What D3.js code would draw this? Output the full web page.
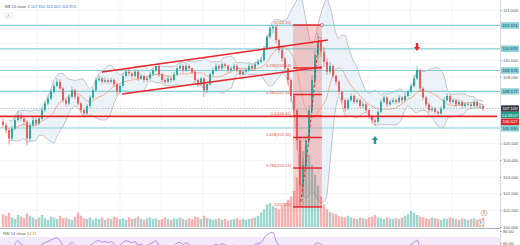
<!DOCTYPE html>
<html><head><meta charset="utf-8">
<script src="https://cdn.jsdelivr.net/npm/d3@7"></script>
<style>html,body{margin:0;padding:0;background:#fff;overflow:hidden}svg{display:block;font-family:"Liberation Sans",Roboto,sans-serif}</style>
</head><body><svg id="c" width="520" height="245"></svg>
<script>
const firstOpen = 106.30;
const closes = [106.10,105.80,105.30,105.90,106.40,106.70,106.50,106.30,105.30,106.10,
106.40,106.20,106.50,107.00,107.40,107.70,108.10,108.45,108.70,108.30,
107.60,107.40,107.80,108.20,107.80,107.40,107.00,106.80,107.25,107.75,
108.20,108.80,108.90,108.70,108.80,108.70,108.80,108.55,108.10,108.45,
109.05,109.30,109.20,109.05,109.30,108.90,109.05,108.80,108.90,109.15,
109.40,109.65,109.15,108.80,108.70,108.90,108.80,109.15,109.50,109.65,
109.40,109.65,109.50,109.30,108.80,108.55,108.90,108.20,108.55,109.15,
109.40,109.65,109.50,109.75,109.65,109.40,109.50,109.65,109.40,109.15,
109.30,109.40,109.65,109.50,109.75,109.90,110.00,110.70,111.40,111.90,
112.00,111.20,110.60,110.10,109.50,108.80,107.85,107.00,105.20,102.50,
103.70,105.20,107.00,108.80,110.30,111.10,110.50,109.90,109.30,109.65,
109.05,108.70,108.10,107.60,107.10,107.60,107.85,107.50,107.60,107.25,
107.35,107.00,106.65,106.40,106.30,106.90,107.50,107.75,107.35,107.50,
107.60,107.50,107.75,107.60,107.85,108.10,108.45,108.90,109.40,108.30,
107.75,107.35,107.00,107.10,106.90,106.80,107.10,107.60,107.85,107.50,
107.60,107.35,107.50,107.25,107.35,107.35,107.25,107.50,107.25,107.25,107.10];
const highs = [106.50,106.25,105.95,106.05,106.55,106.95,106.85,106.60,106.40,106.25,
106.60,106.55,106.65,107.15,107.55,107.90,108.25,108.60,108.90,108.85,
108.40,107.70,107.95,108.40,108.30,107.90,107.50,107.10,107.35,107.90,
108.35,108.95,109.10,109.00,108.95,108.90,108.95,108.90,108.65,108.55,
109.20,109.45,109.45,109.30,109.45,109.40,109.20,109.15,109.05,109.30,
109.55,109.80,109.75,109.25,108.90,109.05,109.00,109.30,109.65,109.85,
109.75,109.80,109.75,109.60,109.40,108.90,109.00,109.00,108.65,109.25,
109.55,109.80,109.75,109.90,109.85,109.75,109.65,109.80,109.75,109.50,
109.45,109.55,109.80,109.75,109.90,110.05,110.20,110.85,111.55,112.05,
112.10,112.05,111.30,110.75,110.20,109.60,108.95,108.00,107.10,105.40,
104.10,105.50,107.30,109.10,110.60,111.60,111.40,110.80,110.10,109.85,
109.75,109.15,108.80,108.20,107.70,107.75,108.00,107.95,107.75,107.70,
107.50,107.45,107.10,106.75,106.50,107.00,107.65,107.90,107.85,107.65,
107.75,107.70,107.90,107.85,108.00,108.25,108.60,109.10,109.65,109.50,
108.40,107.85,107.45,107.25,107.20,107.00,107.25,107.75,108.00,107.95,
107.75,107.70,107.65,107.60,107.50,107.50,107.45,107.65,107.60,107.40,107.35];
const lows = [105.95,105.60,104.95,105.20,105.80,106.30,106.35,106.10,104.90,105.15,
106.00,106.05,106.10,106.40,106.90,107.30,107.60,108.00,108.35,108.20,
107.45,107.20,107.30,107.70,107.65,107.25,106.85,106.60,106.70,107.15,
107.65,108.10,108.70,108.55,108.60,108.55,108.60,108.40,107.90,108.00,
108.35,108.95,109.05,108.90,108.95,108.75,108.80,108.65,108.70,108.80,
109.05,109.30,109.00,108.65,108.55,108.60,108.65,108.70,109.05,109.40,
109.25,109.30,109.35,109.15,108.65,108.40,108.45,107.80,108.05,108.45,
109.05,109.30,109.35,109.40,109.50,109.25,109.30,109.40,109.25,109.00,
109.05,109.20,109.30,109.35,109.40,109.65,109.80,109.90,110.60,111.30,
111.60,111.00,110.40,109.90,109.30,108.50,107.50,106.60,104.60,101.20,
101.80,103.40,104.90,106.80,108.50,110.00,110.20,109.60,109.10,109.15,
108.90,108.50,107.90,107.40,106.90,107.00,107.50,107.35,107.40,107.10,
107.15,106.85,106.50,106.20,106.05,106.20,106.80,107.40,107.20,107.25,
107.40,107.35,107.40,107.45,107.50,107.75,108.00,108.35,108.80,108.10,
107.60,107.20,106.85,106.90,106.75,106.65,106.70,107.00,107.50,107.35,
107.40,107.20,107.25,107.10,107.15,107.20,107.10,107.15,107.10,107.10,106.95];
const volumes = [16,14,18,12,10,15,13,11,17,14,
12,10,12,15,11,9,13,12,10,14,
11,12,10,9,13,18,14,11,10,12,
9,11,10,12,9,11,10,13,12,10,
11,9,12,10,11,13,10,9,11,12,
10,11,9,10,12,10,9,11,10,12,
10,9,11,10,13,12,10,14,11,10,
9,10,11,9,10,8,9,10,11,9,
10,9,10,11,12,14,18,22,28,30,
26,24,22,26,30,34,38,45,62,82,
95,100,90,78,65,52,38,28,22,19,
17,16,14,13,12,14,12,11,10,12,
11,10,12,13,15,12,11,10,12,11,
10,11,10,12,14,16,20,18,15,13,
12,11,10,12,11,10,9,11,10,12,
11,10,9,11,10,9,10,11,9,10,12];
const priceTicks = [100,101,102,103,104,105,106,107,108,109,110,111,113];
const levelValues = [112.074,110.675,109.376,108.127,105.930];
const supportValue = 106.627;
const fibRatios = [0,0.236,0.382,0.5,0.618,0.786,1];
const fibHigh = 112.10, fibLow = 101.20;
const fibSpan = [96.7,106.3];
const channelUpper = [[33,109.28],[108.3,111.2]];
const channelLower = [[39.7,107.97],[106.3,109.58]];
const recoveryPath = [[99.3,101.5],[101.5,104.6],[103.5,108.0],[105.3,111.4]];
const arrowsDown = [[138,110.55]];
const arrowsUp = [[124,105.45]];
const gridIdx = [11.3,25.2,39,52.8,66.7,80.5,94.3,108.2,122,135.8,149.7];
const legendValues = ["107.810","112.405","103.815"];
const rsiTicks = [80,60];
const countdown = "14:59:07";

const svg = d3.select("#c");
const W = 520, axisX = 500, paneBottom = 227;
const n = closes.length;
const opens = closes.map((c,i)=> i===0 ? firstOpen : closes[i-1]);
const x = d3.scaleLinear().domain([0, n-1]).range([3, 483]);
const y = d3.scaleLinear().domain([100,113]).range([227,10]);
const yv = d3.scaleLinear().domain([0,100]).range([227,147]);
const yr = d3.scaleLinear().domain([80,60]).range([231,243]);

svg.append("rect").attr("width",W).attr("height",245).attr("fill","#fff");
const defs = svg.append("defs");
defs.append("clipPath").attr("id","main").append("rect").attr("x",0).attr("y",0).attr("width",axisX).attr("height",paneBottom);
defs.append("clipPath").attr("id","rsi").append("rect").attr("x",0).attr("y",229).attr("width",axisX).attr("height",16);

// grid
const grid = svg.append("g").attr("clip-path","url(#main)");
grid.selectAll("line.v").data(gridIdx).join("line").attr("x1",d=>x(d)).attr("x2",d=>x(d)).attr("y1",0).attr("y2",245).attr("stroke","#eef0f4").attr("stroke-width",0.7);
grid.selectAll("line.h").data(priceTicks).join("line").attr("x1",0).attr("x2",axisX).attr("y1",d=>y(d)).attr("y2",d=>y(d)).attr("stroke","#eef0f4").attr("stroke-width",0.7);

const main = svg.append("g").attr("clip-path","url(#main)");

// Bollinger bands (period 10 over these compressed candles)
const per = 10;
const bb = closes.map((c,i)=>{
  const w = closes.slice(Math.max(0,i-per+1), i+1);
  const m = d3.mean(w), sd = w.length>1 ? Math.sqrt(d3.mean(w.map(v=>(v-m)*(v-m)))) : 0;
  return {i, m, up: m+2*sd, lo: m-2*sd};
}).filter(d=>d.i>=2);
main.append("path").datum(bb).attr("d", d3.area().x(d=>x(d.i)).y0(d=>y(d.lo)).y1(d=>y(d.up)).curve(d3.curveMonotoneX))
  .attr("fill","#e4eef6").attr("opacity",0.75);
["up","lo"].forEach(k=>{
  main.append("path").datum(bb).attr("d", d3.line().x(d=>x(d.i)).y(d=>y(d[k])).curve(d3.curveMonotoneX))
    .attr("fill","none").attr("stroke","#a9aeb5").attr("stroke-width",0.7);
});

// volume
main.selectAll("rect.vol").data(volumes).join("rect")
  .attr("x",(d,i)=>x(i)-1.2).attr("width",2.4)
  .attr("y",d=>yv(d)).attr("height",d=>yv(0)-yv(d))
  .attr("fill",(d,i)=> closes[i]>=opens[i] ? "rgba(38,166,154,0.45)" : "rgba(239,83,80,0.45)");

// horizontal levels
main.selectAll("line.lvl").data(levelValues).join("line")
  .attr("x1",0).attr("x2",axisX).attr("y1",d=>y(d)).attr("y2",d=>y(d))
  .attr("stroke","#86cfd7").attr("stroke-width",1.2);

// fib region
const fibPrice = r => fibHigh - r*(fibHigh-fibLow);
main.append("rect").attr("x",x(fibSpan[0])).attr("width",x(fibSpan[1])-x(fibSpan[0]))
  .attr("y",y(fibHigh)).attr("height",y(fibLow)-y(fibHigh)).attr("fill","rgba(239,83,80,0.28)");

// moving average basis
main.append("path").datum(bb).attr("d", d3.line().x(d=>x(d.i)).y(d=>y(d.m)).curve(d3.curveMonotoneX))
  .attr("fill","none").attr("stroke","#f0926a").attr("stroke-width",0.7);

// candles
const cg = main.append("g");
closes.forEach((c,i)=>{
  const o = opens[i], up = c>=o, col = up ? "#26a69a" : "#ef5350";
  cg.append("line").attr("x1",x(i)).attr("x2",x(i)).attr("y1",y(highs[i])).attr("y2",y(lows[i])).attr("stroke",col).attr("stroke-width",0.6);
  const top = y(Math.max(o,c)), bot = y(Math.min(o,c));
  cg.append("rect").attr("x",x(i)-0.9).attr("width",1.8).attr("y",top).attr("height",Math.max(0.6,bot-top)).attr("fill",col);
});

// current price dashed line
const last = closes[n-1];
main.append("line").attr("x1",0).attr("x2",axisX).attr("y1",y(last)).attr("y2",y(last))
  .attr("stroke","#9aa0a8").attr("stroke-width",0.6).attr("stroke-dasharray","1.5,1.5");

// support line
main.append("line").attr("x1",0).attr("x2",axisX-3).attr("y1",y(supportValue)).attr("y2",y(supportValue))
  .attr("stroke","#e8262a").attr("stroke-width",1.6);

// channel
[channelUpper, channelLower].forEach(seg=>{
  main.append("line").attr("x1",x(seg[0][0])).attr("y1",y(seg[0][1])).attr("x2",x(seg[1][0])).attr("y2",y(seg[1][1]))
    .attr("stroke","#e8262a").attr("stroke-width",1.5);
});

// fib lines + labels
fibRatios.forEach(r=>{
  const p = fibPrice(r);
  main.append("line").attr("x1",x(fibSpan[0])).attr("x2",x(fibSpan[1])).attr("y1",y(p)).attr("y2",y(p))
    .attr("stroke","#e8262a").attr("stroke-width",1.5);
  main.append("text").attr("x",x(fibSpan[0])-2).attr("y",y(p)-1).attr("text-anchor","end")
    .attr("font-size",4).attr("fill","#d9534f").text(`${r}(${p.toFixed(2)})`);
});
main.append("circle").attr("cx",x(fibSpan[1])).attr("cy",y(fibHigh)).attr("r",1.6).attr("fill","#fff").attr("stroke","#e8262a").attr("stroke-width",0.6);

// recovery dashed path
main.append("path").datum(recoveryPath).attr("d", d3.line().x(d=>x(d[0])).y(d=>y(d[1])))
  .attr("fill","none").attr("stroke","#e8262a").attr("stroke-width",1).attr("stroke-dasharray","3,2");

// arrows
arrowsDown.forEach(([i,p])=>{
  const cx = x(i), cy = y(p);
  main.append("path").attr("d",`M${cx-1.2},${cy-8}h2.4v4h1.8l-3,4l-3,-4h1.8z`).attr("fill","#e8262a");
});
arrowsUp.forEach(([i,p])=>{
  const cx = x(i), cy = y(p);
  main.append("path").attr("d",`M${cx-1.2},${cy+8}h2.4v-4h1.8l-3,-4l-3,4h1.8z`).attr("fill","#1f9d87");
});

// bottom right icons
[[484,213],[481,223]].forEach(([cx,cy],k)=>{
  svg.append("circle").attr("cx",cx).attr("cy",cy).attr("r",3).attr("fill","#fff").attr("stroke","#f2a65a").attr("stroke-width",0.7);
  svg.append("text").attr("x",cx).attr("y",cy+1.3).attr("text-anchor","middle").attr("font-size",3.5).attr("fill","#3a6fd8").text(k?"E":"$");
});

// separator + RSI pane
svg.append("line").attr("x1",0).attr("x2",W).attr("y1",228.5).attr("y2",228.5).attr("stroke","#9a9ea6").attr("stroke-width",0.8);
const rg = svg.append("g").attr("clip-path","url(#rsi)");
rg.append("rect").attr("x",0).attr("width",axisX).attr("y",yr(70)).attr("height",yr(30)-yr(70)).attr("fill","#f3e9fb");
// RSI (Wilder, 14)
const rsi = [];
let ag=0, al=0;
for(let i=1;i<n;i++){
  const ch = closes[i]-closes[i-1], g=Math.max(ch,0), l=Math.max(-ch,0);
  if(i<=14){ ag += (g-ag)/i; al += (l-al)/i; } else { ag = (ag*13+g)/14; al = (al*13+l)/14; }
  rsi.push({i, v: al===0 ? 100 : 100-100/(1+ag/al)});
}
rg.append("path").datum(rsi).attr("d", d3.line().x(d=>x(d.i)).y(d=>yr(d.v)).curve(d3.curveMonotoneX))
  .attr("fill","none").attr("stroke","#9b5fd6").attr("stroke-width",0.7);
const rsiLabel = svg.append("text").attr("x",3).attr("y",234.5).attr("font-size",4).attr("fill","#555");
rsiLabel.append("tspan").text("RSI 14 close ");
rsiLabel.append("tspan").attr("fill","#c8931e").text(rsi[rsi.length-1].v.toFixed(2));

// price tag positions
const last_y = y(last);
const tags = [
  ...levelValues.slice(0,4).map(v=>({yy:y(v), txt:d3.format(".3f")(v), bg:"#86cfd7", fg:"#1d4e57"})),
  {yy:last_y, txt:d3.format(".3f")(last), bg:"#3b3f47", fg:"#fff"},
  {yy:last_y+6.6, txt:countdown, bg:"#1f9d87", fg:"#fff"},
  {yy:last_y+13.2, txt:d3.format(".3f")(supportValue), bg:"#e8262a", fg:"#fff"},
  {yy:last_y+19.8, txt:d3.format(".3f")(levelValues[4]), bg:"#86cfd7", fg:"#1d4e57"}
];
const visibleTicks = priceTicks.filter(t => tags.every(g => Math.abs(y(t)-g.yy) > 5.5));

// right axis
svg.append("rect").attr("x",axisX).attr("y",0).attr("width",W-axisX).attr("height",245).attr("fill","#fff");
svg.append("line").attr("x1",axisX+0.5).attr("x2",axisX+0.5).attr("y1",0).attr("y2",245).attr("stroke","#c9ccd2").attr("stroke-width",0.7);
const axis = svg.append("g").attr("transform",`translate(${axisX},0)`)
  .call(d3.axisRight(y).tickValues(visibleTicks).tickFormat(d3.format(".3f")).tickSize(1.5).tickPadding(1.5));
axis.select(".domain").remove();
axis.selectAll("text").attr("font-size",4.2).attr("fill","#555").attr("font-family","Liberation Sans, Roboto, sans-serif");
axis.selectAll("line").attr("stroke","#999");
const raxis = svg.append("g").attr("transform",`translate(${axisX},0)`)
  .call(d3.axisRight(yr).tickValues(rsiTicks).tickFormat(d3.format(".2f")).tickSize(1.5).tickPadding(1.5));
raxis.select(".domain").remove();
raxis.selectAll("text").attr("font-size",4.2).attr("fill","#555").attr("font-family","Liberation Sans, Roboto, sans-serif");
raxis.selectAll("line").attr("stroke","#999");

tags.forEach(g=>{
  svg.append("rect").attr("x",axisX+1).attr("y",g.yy-3.2).attr("width",18).attr("height",6.4).attr("fill",g.bg).attr("rx",0.5);
  svg.append("text").attr("x",axisX+10).attr("y",g.yy+1.5).attr("text-anchor","middle").attr("font-size",4.2).attr("fill",g.fg).text(g.txt);
});

// legend
const lg = svg.append("text").attr("x",5).attr("y",8).attr("font-size",4).attr("fill","#555");
lg.append("tspan").text("BB 20 close 2 ");
legendValues.forEach(v=> lg.append("tspan").attr("fill","#3a7bd5").text(" "+v));
svg.append("rect").attr("x",5).attr("y",13).attr("width",7).attr("height",5).attr("fill","#fff").attr("stroke","#ccc").attr("stroke-width",0.5).attr("rx",0.8);
svg.append("path").attr("d","M7.2,16.4l1.3,-1.2l1.3,1.2").attr("fill","none").attr("stroke","#555").attr("stroke-width",0.5);
</script></body></html>
